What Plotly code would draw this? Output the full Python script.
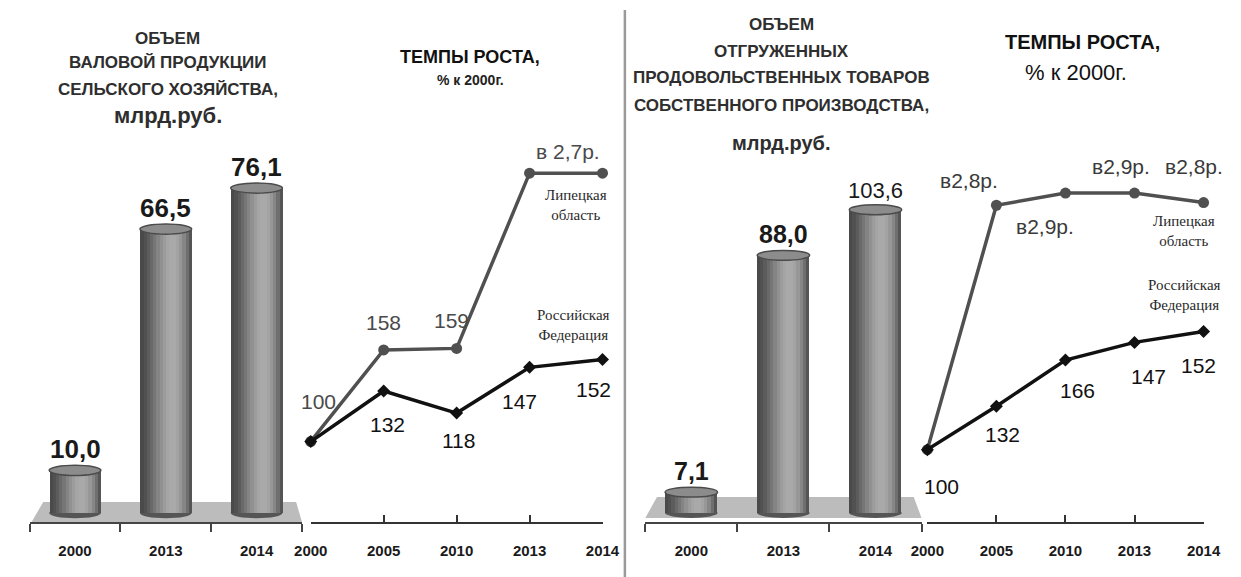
import plotly.graph_objects as go
import math

W, H = 1241, 577

# ---------------- data ----------------
bar_years = ["2000", "2013", "2014"]
gross_agri = [10.0, 66.5, 76.1]            # млрд.руб.
gross_agri_text = ["10,0", "66,5", "76,1"]
food_ship = [7.1, 88.0, 103.6]             # млрд.руб.
food_ship_text = ["7,1", "88,0", "103,6"]

line_years = ["2000", "2005", "2010", "2013", "2014"]
agri_lipetsk = [100, 158, 159, 270, 270]
agri_rf = [100, 132, 118, 147, 152]
agri_lipetsk_text = ["100", "158", "159", "в 2,7р.", ""]
agri_rf_text = ["", "132", "118", "147", "152"]

food_lipetsk = [100, 280, 289, 289, 282]
food_rf = [100, 132, 166, 179, 187]
food_lipetsk_text = ["", "в2,8р.", "в2,9р.", "в2,9р.", "в2,8р."]
food_rf_text = ["100", "132", "166", "147", "152"]

# ---------------- helpers ----------------
def px(x):
    return x / W

def py(y):
    return 1 - y / H

NARROW = "Liberation Sans Narrow, Arial Narrow, Liberation Sans, Arial, sans-serif"
SANS = "Liberation Sans, Arial, sans-serif"
SERIF = "Liberation Serif, Times New Roman, serif"

fig = go.Figure()
annotations = []
shapes = []

def strip_color(t):
    # cylinder shading: dark edges, highlight slightly right of centre
    tt = t ** (math.log(0.5) / math.log(0.62))
    lum = 72 + 98 * math.sin(math.pi * tt)
    v = int(max(0, min(255, lum)))
    return f"rgb({v},{v},{v})"

def cylinders(xa, ya, values, width, n=16):
    for i in range(n):
        t = (i + 0.5) / n
        fig.add_trace(go.Bar(
            x=list(range(len(values))), y=values, xaxis=xa, yaxis=ya,
            width=width / n, offset=-width / 2 + i * width / n,
            marker=dict(color=strip_color(t), line=dict(width=0)),
            showlegend=False, hoverinfo="skip"))

def cyl_shapes(xr, yr, values, width, ell):
    for i, v in enumerate(values):
        shapes.append(dict(type="circle", xref=xr, yref=yr,
                           x0=i - width / 2, x1=i + width / 2, y0=-ell, y1=ell,
                           fillcolor="rgb(85,85,85)", line=dict(width=0), layer="below"))
        shapes.append(dict(type="circle", xref=xr, yref=yr,
                           x0=i - width / 2, x1=i + width / 2, y0=v - ell, y1=v + ell,
                           fillcolor="rgb(140,140,140)",
                           line=dict(color="rgb(75,75,75)", width=1.5), layer="above"))

# ---------------- left bar chart ----------------
BW = 0.57
cylinders("x", "y", gross_agri, BW)
cyl_shapes("x", "y", gross_agri, BW, 1.2)
for i, (v, t) in enumerate(zip(gross_agri, gross_agri_text)):
    annotations.append(dict(x=i, y=v, xref="x", yref="y", text=f"<b>{t}</b>",
                            showarrow=False, xanchor="center", yanchor="bottom", yshift=4,
                            font=dict(family=SANS, size=26, color="#1a1a1a")))

# ---------------- right bar chart ----------------
cylinders("x3", "y3", food_ship, BW)
cyl_shapes("x3", "y3", food_ship, BW, 1.7)
for i, (v, t) in enumerate(zip(food_ship, food_ship_text)):
    bold = i < 2
    annotations.append(dict(x=i, y=v, xref="x3", yref="y3",
                            text=f"<b>{t}</b>" if bold else t,
                            showarrow=False, xanchor="center", yanchor="bottom", yshift=5,
                            font=dict(family=SANS, size=25 if bold else 22, color="#1a1a1a")))

# platforms under the cylinders
for (l_top, r_top, l_bot, r_bot, top, bot) in [(27, 287, 15, 293, 502, 522),
                                                (658, 922, 646, 930, 497, 518)]:
    shapes.insert(0, dict(type="path", xref="paper", yref="paper",
                          path=f"M {px(l_top)},{py(top)} L {px(r_top)},{py(top)} "
                               f"L {px(r_bot)},{py(bot)} L {px(l_bot)},{py(bot)} Z",
                          fillcolor="rgb(188,188,188)", line=dict(width=0), layer="below"))

# ---------------- line charts ----------------
def lines(xa, ya, lip, rf):
    fig.add_trace(go.Scatter(x=list(range(len(lip))), y=lip, xaxis=xa, yaxis=ya,
                             mode="lines+markers", cliponaxis=False,
                             line=dict(color="#505050", width=3.5),
                             marker=dict(symbol="circle", size=11, color="#505050"),
                             showlegend=False, hoverinfo="skip"))
    fig.add_trace(go.Scatter(x=list(range(len(rf))), y=rf, xaxis=xa, yaxis=ya,
                             mode="lines+markers", cliponaxis=False,
                             line=dict(color="#111111", width=3.5),
                             marker=dict(symbol="diamond", size=10, color="#111111"),
                             showlegend=False, hoverinfo="skip"))

lines("x2", "y2", agri_lipetsk, agri_rf)
lines("x4", "y4", food_lipetsk, food_rf)

def point_labels(xr, yr, vals, texts, shifts, color, size=21):
    for i, (v, t, (dx, dy)) in enumerate(zip(vals, texts, shifts)):
        if not t:
            continue
        annotations.append(dict(x=i, y=v, xref=xr, yref=yr, text=t, showarrow=False,
                                xanchor="center", yanchor="middle",
                                xshift=dx, yshift=dy,
                                font=dict(family=SANS, size=size, color=color)))

point_labels("x2", "y2", agri_lipetsk, agri_lipetsk_text,
             [(8, 40), (0, 27), (-5, 28), (38, 22), (0, 0)], "#4a4a4a")
point_labels("x2", "y2", agri_rf, agri_rf_text,
             [(0, 0), (4, -33), (2, -27), (-10, -34), (-9, -30)], "#111111")
point_labels("x4", "y4", food_lipetsk, food_lipetsk_text,
             [(0, 0), (-27, 25), (-20, -33), (-14, 27), (-10, 36)], "#3a3a3a")
point_labels("x4", "y4", food_rf, food_rf_text,
             [(14, -37), (6, -28), (12, -30), (14, -34), (-5, -34)], "#111111")

def series_name(x, y, text):
    annotations.append(dict(x=px(x), y=py(y), xref="paper", yref="paper", text=text,
                            showarrow=False, align="center", xanchor="center", yanchor="middle",
                            font=dict(family=SERIF, size=15, color="#2a2a2a")))

series_name(575, 205, "Липецкая<br>область")
series_name(572, 325, "Российская<br>Федерация")
series_name(1200, 231, "Липецкая<br>область")
series_name(1200, 295, "Российская<br>Федерация")

# ---------------- titles ----------------
def title(x, y, text, size, bold=False, family=NARROW, color="#2e2e2e"):
    annotations.append(dict(x=px(x), y=py(y), xref="paper", yref="paper",
                            text=f"<b>{text}</b>" if bold else text, showarrow=False,
                            xanchor="center", yanchor="middle",
                            font=dict(family=family, size=size, color=color)))

title(155, 38, "ОБЪЕМ", 17, True)
title(155, 63, "ВАЛОВОЙ ПРОДУКЦИИ", 17, True)
title(155, 89, "СЕЛЬСКОГО ХОЗЯЙСТВА,", 17, True)
title(155, 116, "млрд.руб.", 22, True, SANS)
title(466, 57, "ТЕМПЫ РОСТА,", 18, True, color="#111")
title(466, 80, "% к 2000г.", 14, True, color="#222")

title(786, 25, "ОБЪЕМ", 17, True)
title(786, 51, "ОТГРУЖЕННЫХ", 17, True)
title(786, 78, "ПРОДОВОЛЬСТВЕННЫХ ТОВАРОВ", 17, True)
title(786, 105, "СОБСТВЕННОГО ПРОИЗВОДСТВА,", 17, True)
title(786, 143, "млрд.руб.", 20, True, SANS)
title(1096, 42, "ТЕМПЫ РОСТА,", 20, True, color="#111")
title(1089, 72, "% к 2000г.", 22, False, color="#111")

# divider
shapes.append(dict(type="line", xref="paper", yref="paper",
                   x0=px(625), x1=px(625), y0=py(10), y1=0,
                   line=dict(color="#9a9a9a", width=2.5)))

# ---------------- axes ----------------
tickfont = dict(family=NARROW, size=15, color="#1a1a1a")
ybot = py(522)
ytop = py(150)

def bar_xaxis(domain):
    return dict(domain=domain, range=[-0.5, 2.5], tickmode="array",
                tickvals=[0, 1, 2], ticktext=[f"<b>{y}</b>" for y in bar_years],
                showline=True, linecolor="#444", linewidth=2, showgrid=False,
                zeroline=False, ticks="", tickfont=tickfont, ticklabelstandoff=14,
                minor=dict(tickmode="array", tickvals=[-0.5, 0.5, 1.5, 2.5],
                           ticks="outside", ticklen=8, tickwidth=2, tickcolor="#444"),
                fixedrange=True)

def line_xaxis(domain):
    return dict(domain=domain, range=[0, 4], tickmode="array",
                tickvals=[0, 1, 2, 3, 4], ticktext=[f"<b>{y}</b>" for y in line_years],
                showline=True, linecolor="#333", linewidth=2, showgrid=False,
                zeroline=False, ticks="inside", ticklen=7, tickwidth=2, tickcolor="#333",
                tickfont=tickfont, ticklabelstandoff=14, fixedrange=True)

def hidden_y(anchor, rng):
    return dict(domain=[ybot, ytop], range=rng, visible=False, anchor=anchor,
                showgrid=False, zeroline=False, fixedrange=True)

fig.update_layout(
    width=W, height=H, margin=dict(l=0, r=0, t=0, b=0),
    paper_bgcolor="white", plot_bgcolor="rgba(0,0,0,0)",
    barmode="overlay", bargap=0,
    xaxis=dict(anchor="y", **bar_xaxis([px(13), px(293)])),
    yaxis=hidden_y("x", [-2.1, 85]),
    xaxis2=dict(anchor="y2", **line_xaxis([px(302), px(602)])),
    yaxis2=hidden_y("x2", [49, 284.7]),
    xaxis3=dict(anchor="y3", **bar_xaxis([px(646), px(930)])),
    yaxis3=hidden_y("x3", [-3.1, 124]),
    xaxis4=dict(anchor="y4", **line_xaxis([px(936), px(1220)])),
    yaxis4=hidden_y("x4", [46.7, 320.7]),
    annotations=annotations, shapes=shapes,
)

fig.write_html("out.html", config={"displayModeBar": False},
               post_script="document.body.style.margin='0';"
                           "document.body.style.overflow='hidden';")
